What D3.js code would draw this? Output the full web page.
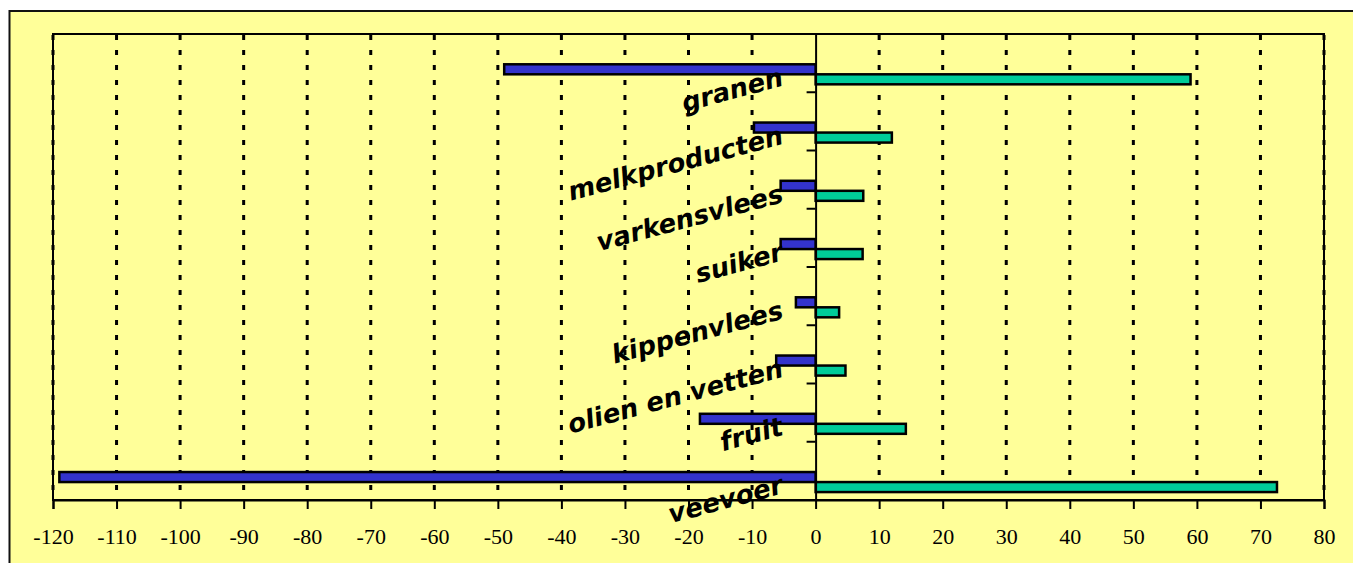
<!DOCTYPE html>
<html lang="en">
    <head>
        <meta charset="utf-8">
        <title>Bar chart</title>
        <script type="text/javascript" src="https://d3js.org/d3.v7.min.js"></script>
        <style type="text/css">
            body { margin: 0; background: #ffffff; }
            .x.label text {
                font-family: "Liberation Serif", "Times New Roman", serif;
                font-size: 22px;
                fill: #000000;
            }
            .cat {
                font-family: "DejaVu Sans", Verdana, sans-serif;
                font-size: 26px;
                font-weight: bold;
                font-style: italic;
                fill: #000000;
            }
        </style>
    </head>
    <body>
        <script type="text/javascript">

        // data
        const categories = ["granen", "melkproducten", "varkensvlees", "suiker",
                            "kippenvlees", "olien en vetten", "fruit", "veevoer"];
        const blueValues = [-49, -9.7, -5.5, -5.5, -3.1, -6.2, -18.2, -119];
        const tealValues = [59, 12, 7.5, 7.4, 3.7, 4.7, 14.2, 72.6];
        const xTicks = d3.range(-120, 81, 10);

        const width = 1353;
        const height = 563;
        const plotLeft = 53, plotRight = 1324, plotTop = 34, plotBottom = 500;

        const xScale = d3.scaleLinear()
                        .domain([-120, 80])
                        .range([plotLeft, plotRight]);
        const yScale = d3.scaleBand()
                        .domain(categories)
                        .range([plotTop, plotBottom]);
        const bw = yScale.bandwidth();

        const svg = d3.select("body")
                    .append("svg")
                    .attr("width", width)
                    .attr("height", height);

        // outer frame
        svg.append("rect")
            .attr("x", 9.5)
            .attr("y", 11)
            .attr("width", width + 20)
            .attr("height", height + 20)
            .attr("fill", "#FFFF99")
            .attr("stroke", "#111111")
            .attr("stroke-width", 2);

        // plot area
        svg.append("rect")
            .attr("x", plotLeft)
            .attr("y", plotTop)
            .attr("width", plotRight - plotLeft)
            .attr("height", plotBottom - plotTop)
            .attr("fill", "#FFFF99")
            .attr("stroke", "#000000")
            .attr("stroke-width", 2);

        // dotted grid lines
        svg.append("g")
            .selectAll("line")
            .data(xTicks.filter(d => d !== 0))
            .enter()
            .append("line")
            .attr("x1", d => xScale(d))
            .attr("x2", d => xScale(d))
            .attr("y1", plotTop + 1)
            .attr("y2", plotBottom)
            .attr("stroke", "#000000")
            .attr("stroke-width", 3)
            .attr("stroke-dasharray", "5,10");

        // bars
        const blueY = d => yScale(d) + 0.52 * bw;
        const barH = 0.172 * bw;

        svg.append("g")
            .selectAll("rect")
            .data(categories)
            .enter()
            .append("rect")
            .attr("x", (d, i) => xScale(blueValues[i]))
            .attr("y", d => blueY(d))
            .attr("width", (d, i) => xScale(0) - xScale(blueValues[i]))
            .attr("height", barH)
            .attr("fill", "#3333CC")
            .attr("stroke", "#000000")
            .attr("stroke-width", 2.5);

        svg.append("g")
            .selectAll("rect")
            .data(categories)
            .enter()
            .append("rect")
            .attr("x", xScale(0))
            .attr("y", d => blueY(d) + barH)
            .attr("width", (d, i) => xScale(tealValues[i]) - xScale(0))
            .attr("height", barH)
            .attr("fill", "#00CC99")
            .attr("stroke", "#000000")
            .attr("stroke-width", 2.5);

        // bottom axis
        const bottomAxis = d3.axisBottom(xScale)
                            .tickValues(xTicks)
                            .tickSize(9)
                            .tickFormat(d => String(d));
        const gx = svg.append("g")
            .attr("class", "x label")
            .attr("transform", "translate(0," + plotBottom + ")")
            .call(bottomAxis);
        gx.select(".domain").attr("stroke", "#000000").attr("stroke-width", 2);
        gx.selectAll(".tick line").attr("stroke", "#000000").attr("stroke-width", 2);
        gx.selectAll(".tick text").attr("dy", 0).attr("y", 44);

        // vertical axis at zero with category ticks
        const leftAxis = d3.axisLeft(yScale)
                            .tickSize(0)
                            .tickFormat("");
        const gy = svg.append("g")
            .attr("transform", "translate(" + xScale(0) + ",0)")
            .call(leftAxis);
        gy.select(".domain").attr("stroke", "#000000").attr("stroke-width", 2);

        svg.append("g")
            .selectAll("line")
            .data(categories.slice(1))
            .enter()
            .append("line")
            .attr("x1", xScale(0) - 9)
            .attr("x2", xScale(0))
            .attr("y1", d => yScale(d))
            .attr("y2", d => yScale(d))
            .attr("stroke", "#000000")
            .attr("stroke-width", 2);

        // rotated category labels
        svg.append("g")
            .selectAll("text")
            .data(categories)
            .enter()
            .append("text")
            .attr("class", "cat")
            .attr("text-anchor", "end")
            .attr("transform", d => "translate(" + (xScale(0) - 31) + "," + (yScale(d) + bw / 2 + 22) + ") rotate(-15)")
            .text(d => d);

        </script>
    </body>
</html>
